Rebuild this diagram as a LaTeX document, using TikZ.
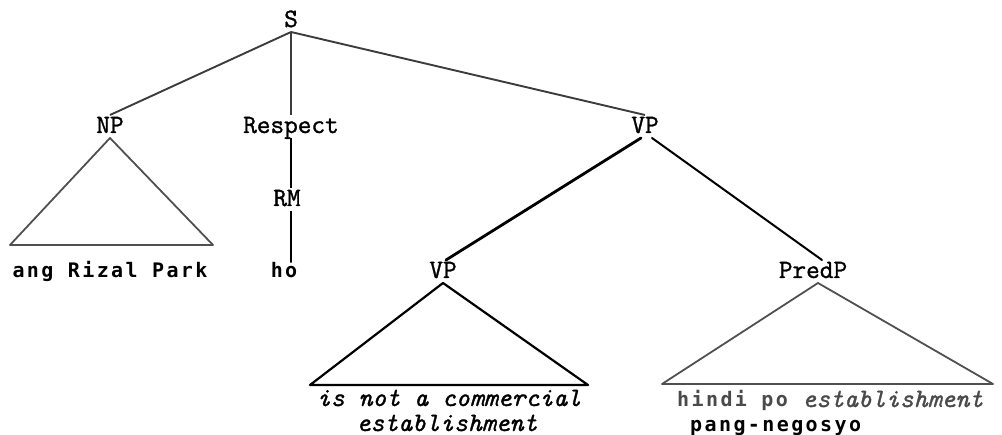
\documentclass[tikz,border=0pt]{standalone}
\usepackage{fontspec}
\newfontfamily\tmono[FakeBold=1.2]{Latin Modern Mono}
\newfontfamily\spsans[LetterSpace=12]{DejaVu Sans Mono}
\definecolor{edgegray}{HTML}{3C3C3C}
\definecolor{trigray}{HTML}{505050}
\definecolor{txtgray}{HTML}{4A4A4A}
\tikzset{
  lab/.style={font=\tmono\fontsize{26.5}{26.5}\selectfont, inner xsep=0pt, inner ysep=0pt,
    outer sep=0pt, outer ysep=3pt, text height=15pt, text depth=2pt, anchor=base},
  word/.style={font=\spsans\bfseries\fontsize{20}{20}\selectfont, inner sep=0pt, anchor=base},
  itword/.style={font=\tmono\itshape\fontsize{26.5}{26.5}\selectfont, inner sep=0pt, anchor=base},
  greyedge/.style={draw=edgegray, line width=1.9pt},
  blackedge/.style={draw=black, line width=2pt},
  boldedge/.style={draw=black, line width=2.8pt},
  greytri/.style={draw=trigray, line width=1.8pt, line join=round},
  blacktri/.style={draw=black, line width=2.2pt, line join=round},
}
\begin{document}
\begin{tikzpicture}[x=1pt,y=-1pt]
\useasboundingbox (0,0) rectangle (1002,435);
% labels
\node[lab] (S) at (291,27) {S};
\node[lab] (NP) at (110,133) {NP};
\node[lab] (Resp) at (291,133) {Respect};
\node[lab] (VP) at (645,133) {VP};
\node[lab] (RM) at (287,206) {RM};
\node[word] (arp) at (110,278) {ang Rizal Park};
\node[word] (ho) at (284,278) {ho};
\node[lab] (VPb) at (443,278) {VP};
\node[lab] (PredP) at (813,278) {PredP};
\node[itword] (y1a) at (449,406) {is not a commercial};
\node[itword] (y1b) at (447,431) {establishment};
\node[anchor=base west, inner sep=0pt] (y2a) at (677,407) {\textcolor{txtgray}{\spsans\bfseries\fontsize{20}{20}\selectfont hindi po }\textcolor{txtgray}{\tmono\itshape\fontsize{26.5}{26.5}\selectfont establishment}};
\node[word, anchor=base west] (y2b) at (690,432) {pang-negosyo};
% triangle corners
\coordinate (npL) at (10,245);
\coordinate (npR) at (213,245);
\coordinate (vpL) at (310,385);
\coordinate (vpR) at (588,385);
\coordinate (ppL) at (662,384);
\coordinate (ppR) at (993,384);
% edges
\draw[greyedge] (S.south) -- (NP.north);
\draw[greyedge] (S.south) -- (Resp.north);
\draw[greyedge] (S.south) -- (VP.north);
\draw[blackedge] (Resp.south) -- (Resp.south |- RM.north);
\draw[blackedge] (Resp.south |- RM.south) -- (Resp.south |- ho.north) -- ++(0,-3);
\draw[boldedge, line cap=round] ([xshift=-4pt]VP.south) -- ([xshift=3pt]VPb.north);
\draw[blackedge, line cap=round] ([xshift=7pt]VP.south) -- ([xshift=9pt]PredP.north);
% triangles
\draw[greytri] (NP.south) -- (npL) -- (npR) -- cycle;
\draw[blacktri] (VPb.south) -- (vpL) -- (vpR) -- cycle;
\draw[greytri] ([xshift=5pt]PredP.south) -- (ppL) -- (ppR) -- cycle;
\end{tikzpicture}
\end{document}
